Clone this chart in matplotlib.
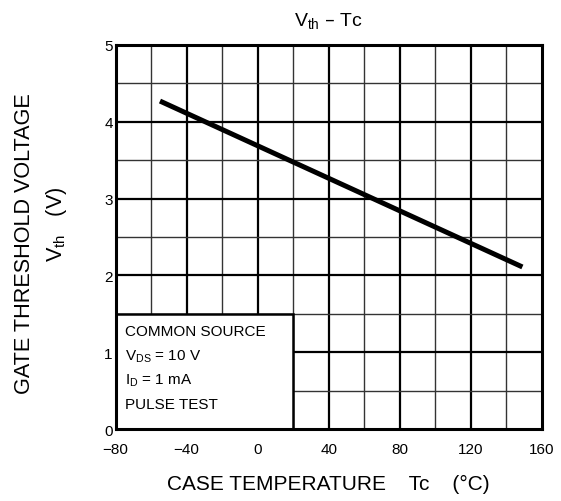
import matplotlib
matplotlib.use("Agg")
import matplotlib.pyplot as plt
from matplotlib.patches import Rectangle

plt.rcParams['font.family'] = ['Liberation Sans', 'DejaVu Sans']
plt.rcParams['axes.unicode_minus'] = True

# Vth vs case temperature (straight-line characteristic)
tc = [-55, 149]
vth = [4.27, 2.11]

x_ticks = [-80, -40, 0, 40, 80, 120, 160]
x_tick_labels = ['\u221280', '\u221240', '0', '40', '80', '120', '160']
y_ticks = [0, 1, 2, 3, 4, 5]

conditions = ['COMMON SOURCE', r'V$_{\mathregular{DS}}$ = 10 V',
              r'I$_{\mathregular{D}}$ = 1 mA', 'PULSE TEST']
cond_y = [1.27, 0.95, 0.64, 0.33]

fig = plt.figure(figsize=(5.61, 5.02), dpi=100)
ax = fig.add_axes([0.206, 0.1434, 0.966 - 0.206, 0.9084 - 0.1434])
ax.set_xlim(-80, 160)
ax.set_ylim(0, 5)

# minor grid every 20 degC / 0.5 V, major every 40 degC / 1 V
for x in range(-60, 160, 20):
    major = x % 40 == 0
    ax.axvline(x, color='black' if major else '#333333',
               lw=1.6 if major else 1.0, zorder=1)
for i in range(1, 10):
    y = i * 0.5
    major = i % 2 == 0
    ax.axhline(y, color='black' if major else '#333333',
               lw=1.6 if major else 1.0, zorder=1)

# conditions box hides the grid in the lower-left corner
ax.add_patch(Rectangle((-80, 0), 100, 1.5, facecolor='white',
                       edgecolor='black', lw=1.8, zorder=2))
for txt, y in zip(conditions, cond_y):
    ax.text(-74.5, y, txt, fontsize=11, va='center', ha='left', zorder=3)

ax.plot(tc, vth, color='black', lw=3.6, solid_capstyle='butt', zorder=4)

for s in ax.spines.values():
    s.set_linewidth(2.2)
    s.set_zorder(5)

ax.set_xticks(x_ticks)
ax.set_xticklabels(x_tick_labels)
ax.set_yticks(y_ticks)
ax.tick_params(length=0, labelsize=11)
ax.tick_params(axis='x', pad=9)
ax.tick_params(axis='y', pad=2)

ax.set_title('V$_{\\mathregular{th}}$ \u2013 Tc', fontsize=14, pad=14)
ax.set_xlabel('CASE TEMPERATURE    Tc    (\u00b0C)', fontsize=15, labelpad=13)

fig.text(0.043, 0.515, 'GATE THRESHOLD VOLTAGE', rotation=90,
         fontsize=15.6, ha='center', va='center')
fig.text(0.100, 0.554, 'V$_{\\mathregular{th}}$   (V)', rotation=90,
         fontsize=15.6, ha='center', va='center')

fig.savefig('out.png', dpi=100)
